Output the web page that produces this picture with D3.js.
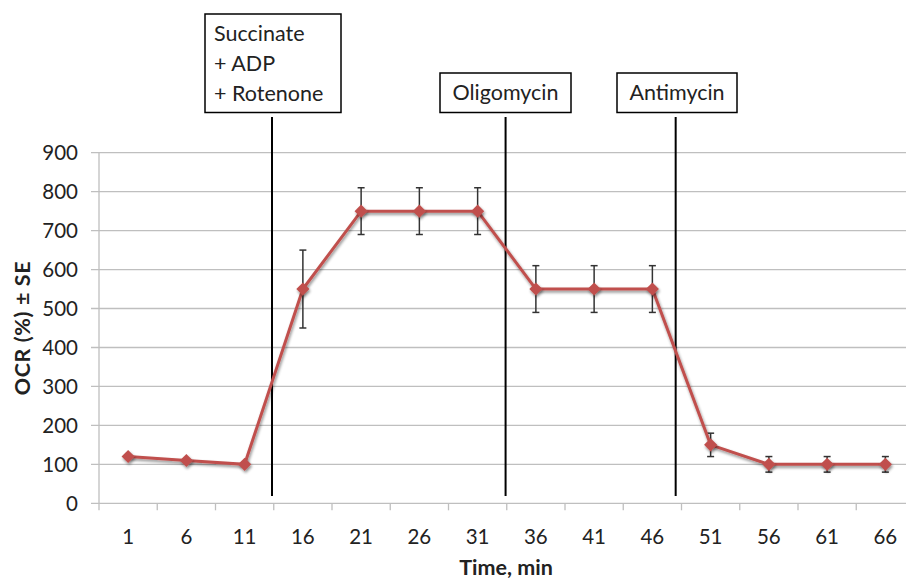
<!DOCTYPE html>
<html><head><meta charset="utf-8">
<script src="https://cdn.jsdelivr.net/npm/d3@7"></script>
<style>
body{margin:0;background:#fff;}
text{font-family:Lato,"Open Sans",sans-serif;fill:#222;}
</style></head>
<body><svg id="c" width="906" height="579"></svg>
<script>
const categories = ["1","6","11","16","21","26","31","36","41","46","51","56","61","66"];
const ocrValues = [120,110,100,550,750,750,750,550,550,550,150,100,100,100];
const seValues = [0,0,0,100,60,60,60,60,60,60,30,20,20,20];
const yTicks = [0,100,200,300,400,500,600,700,800,900];
const injections = [
  {lines:["Succinate","+ ADP","+ Rotenone"], time:13.35},
  {lines:["Oligomycin"], time:33.4},
  {lines:["Antimycin"], time:48.0}
];

const svg = d3.select("#c");
const L = 99, R = 914.5, T = 152.7, B = 503.3;
const x = d3.scaleBand().domain(categories).range([L,R]);
const y = d3.scaleLinear().domain([0,900]).range([B,T]);
const red = "#C0504D";
const cx = i => x(categories[i]) + x.bandwidth()/2;
const tScale = d3.scaleLinear().domain([+categories[0], +categories[categories.length-1]])
  .range([cx(0), cx(categories.length-1)]);

// gridlines
svg.append("g").selectAll("line").data(yTicks).join("line")
  .attr("x1",L-8).attr("x2",R).attr("y1",d=>y(d)).attr("y2",d=>y(d))
  .attr("stroke","#BFBFBF").attr("stroke-width",1.3);
svg.append("line").attr("x1",L).attr("x2",L).attr("y1",T).attr("y2",B)
  .attr("stroke","#BFBFBF").attr("stroke-width",1.3);
const bounds = categories.map(c=>x(c)).concat([R]);
svg.append("g").selectAll("line").data(bounds).join("line")
  .attr("x1",d=>d).attr("x2",d=>d).attr("y1",B).attr("y2",B+7)
  .attr("stroke","#BFBFBF").attr("stroke-width",1.3);

// y labels
svg.append("g").selectAll("text").data(yTicks).join("text")
  .attr("x",78).attr("y",d=>y(d)).attr("dy","0.36em").attr("text-anchor","end")
  .attr("font-size",20.5).text(d=>d);
// x labels
svg.append("g").selectAll("text").data(categories).join("text")
  .attr("x",d=>x(d)+x.bandwidth()/2).attr("y",544).attr("text-anchor","middle")
  .attr("font-size",20.5).text(d=>d);

// axis titles
svg.append("text").attr("x",506).attr("y",575).attr("text-anchor","middle")
  .attr("font-size",21.5).attr("font-weight","bold").text("Time, min");
svg.append("text").attr("transform",`translate(30,${(T+B)/2}) rotate(-90)`)
  .attr("text-anchor","middle").attr("font-size",21.5).attr("font-weight","bold")
  .attr("letter-spacing",0.6).text("OCR (%) ± SE");

const boxes = [
  {x0:205,x1:341,y0:14},
  {x0:440,x1:571,y0:73},
  {x0:617,x1:737,y0:73}
];
injections.forEach((inj,i)=>{
  const px = tScale(inj.time);
  svg.append("line").attr("x1",px).attr("x2",px).attr("y1",117).attr("y2",496)
    .attr("stroke","#000").attr("stroke-width",2);
  const b = boxes[i];
  svg.append("rect").attr("x",b.x0).attr("y",b.y0).attr("width",b.x1-b.x0).attr("height",112.5-b.y0)
    .attr("fill","#fff").attr("stroke","#000").attr("stroke-width",1.5);
  const t = svg.append("text").attr("font-size",21.5);
  inj.lines.forEach((ln,j)=>{
    t.append("tspan").attr("x", inj.lines.length>1 ? b.x0+9 : (b.x0+b.x1)/2)
      .attr("y", b.y0+27+j*30).attr("text-anchor", inj.lines.length>1?"start":"middle").text(ln);
  });
});

// shadow filter
const defs = svg.append("defs");
const f = defs.append("filter").attr("id","sh").attr("x","-50%").attr("y","-50%").attr("width","200%").attr("height","200%");
f.append("feGaussianBlur").attr("in","SourceAlpha").attr("stdDeviation",1.5);
f.append("feOffset").attr("dx",1).attr("dy",1.5).attr("result","b");
f.append("feComponentTransfer").append("feFuncA").attr("type","linear").attr("slope",0.45);
const m = f.append("feMerge"); m.append("feMergeNode"); m.append("feMergeNode").attr("in","SourceGraphic");

// error bars
const eb = svg.append("g").attr("stroke","#333").attr("stroke-width",1.5);
ocrValues.forEach((v,i)=>{
  const e = seValues[i]; if(!e) return;
  const X = cx(i);
  eb.append("line").attr("x1",X).attr("x2",X).attr("y1",y(v-e)).attr("y2",y(v+e));
  [v-e,v+e].forEach(yy=>eb.append("line").attr("x1",X-3.5).attr("x2",X+3.5).attr("y1",y(yy)).attr("y2",y(yy)));
});

// line
svg.append("path").datum(ocrValues)
  .attr("d", d3.line().x((d,i)=>cx(i)).y(d=>y(d)))
  .attr("fill","none").attr("stroke",red).attr("stroke-width",3).attr("filter","url(#sh)");
// markers
svg.append("g").selectAll("path").data(ocrValues).join("path")
  .attr("transform",(d,i)=>`translate(${cx(i)},${y(d)})`)
  .attr("d", d3.symbol(d3.symbolDiamond2, 110)())
  .attr("fill",red).attr("filter","url(#sh)");
</script></body></html>
